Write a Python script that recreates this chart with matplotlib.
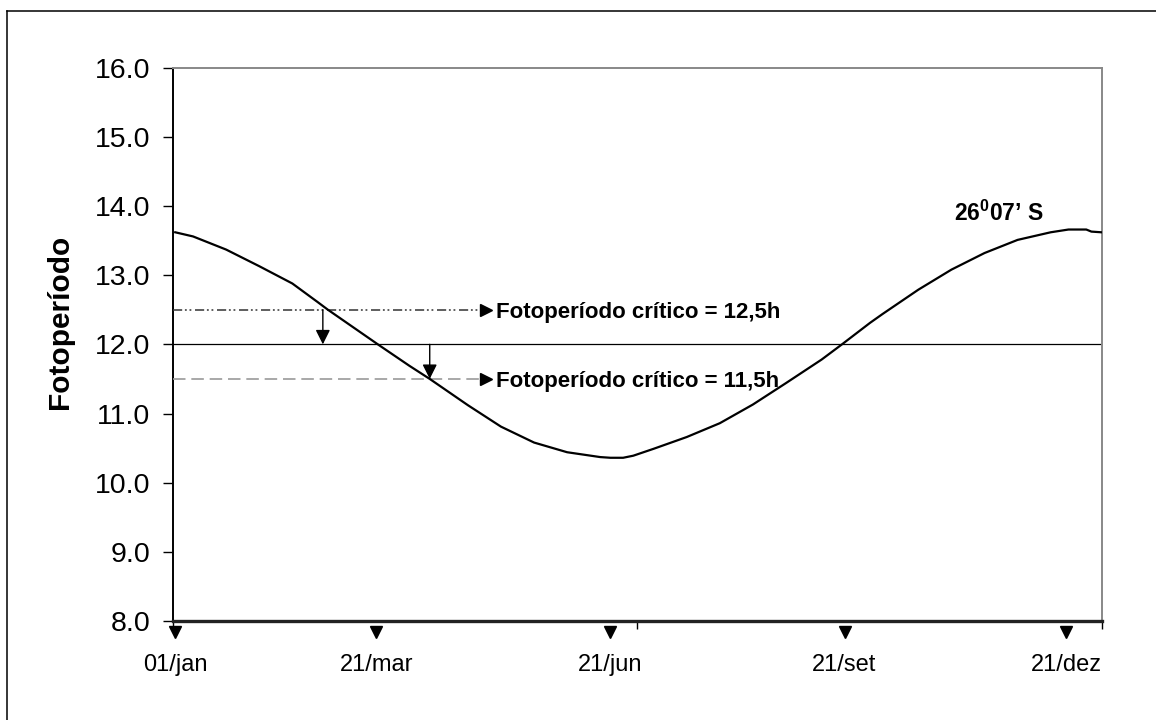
import matplotlib
matplotlib.use("Agg")
import matplotlib.pyplot as plt
from matplotlib.lines import Line2D

plt.rcParams["font.family"] = ["Liberation Sans", "DejaVu Sans"]
plt.rcParams["mathtext.fontset"] = "custom"
plt.rcParams["mathtext.bf"] = "Liberation Sans:bold"
plt.rcParams["mathtext.rm"] = "Liberation Sans"

# fotoperíodo (dia do ano, horas de luz)
days = [1, 8, 21, 34, 47, 57, 61, 81, 93, 101, 116, 129, 142, 155, 168, 172,
        177, 181, 189, 202, 215, 228, 241, 255, 263, 274, 279, 293, 306, 319,
        332, 345, 352, 359, 361, 365]
hours = [13.62, 13.56, 13.37, 13.13, 12.88, 12.61, 12.50, 11.99, 11.69, 11.50,
         11.12, 10.81, 10.58, 10.44, 10.37, 10.36, 10.36, 10.39, 10.49, 10.66,
         10.86, 11.13, 11.44, 11.78, 12.00, 12.31, 12.44, 12.79, 13.08, 13.32,
         13.51, 13.62, 13.66, 13.66, 13.63, 13.62]

date_days = [1, 80, 172, 264, 351]
date_labels = ["01/jan", "21/mar", "21/jun", "21/set", "21/dez"]

critical = [12.5, 11.5]
critical_labels = ["Fotoperíodo crítico = 12,5h", "Fotoperíodo crítico = 11,5h"]
cross_days = [59, 101]   # onde as setas verticais descem
latitude = r"26$^{\mathbf{0}}$07’ S"

fig = plt.figure(figsize=(11.56, 7.2), dpi=100)
ax = fig.add_axes([0.1494, 0.1375, 0.8035, 0.7685])

# moldura externa (só esquerda e topo aparecem)
fig.add_artist(Line2D([0.006, 0.006], [0.0, 0.9847], color="black", lw=1.1))
fig.add_artist(Line2D([0.006, 1.0], [0.9847, 0.9847], color="black", lw=1.1))

ax.plot(days, hours, color="black", lw=1.6, zorder=4)
ax.axhline(12.0, color="black", lw=0.9, zorder=2)

end_day = 121
ax.plot([0, end_day], [critical[0]] * 2, color="#333333", lw=1.1,
        linestyle=(0, (6, 1.8, 1.2, 1.8, 1.2, 2.4)), zorder=3)
ax.plot([0, end_day], [critical[1]] * 2, color="#999999", lw=1.2,
        linestyle=(0, (7.5, 3.5)), zorder=3)
for c, lab in zip(critical, critical_labels):
    ax.plot([123], [c], marker=">", ms=8, color="black", zorder=5)
    ax.text(127, c, lab, fontsize=16, fontweight="bold", ha="left",
            va="center_baseline")

# setas descendo até 12 h e até 11,5 h
ax.annotate("", xy=(cross_days[0], 12.0), xytext=(cross_days[0], 12.5),
            arrowprops=dict(arrowstyle="-|>", color="black", lw=1.0,
                            mutation_scale=22, shrinkA=0, shrinkB=0), zorder=5)
ax.annotate("", xy=(cross_days[1], 11.5), xytext=(cross_days[1], 12.0),
            arrowprops=dict(arrowstyle="-|>", color="black", lw=1.0,
                            mutation_scale=22, shrinkA=0, shrinkB=0), zorder=5)

ax.text(307, 13.9, latitude, fontsize=16.5, fontweight="bold", ha="left",
        va="center")

ax.set_xlim(0, 365)
ax.set_ylim(8, 16)
ax.set_yticks([8, 9, 10, 11, 12, 13, 14, 15, 16])
ax.set_yticklabels([f"{v:.1f}" for v in range(8, 17)])
ax.tick_params(axis="y", direction="out", length=7, width=1.0, pad=9,
               labelsize=20.5)

ax.set_xticks(date_days)
ax.set_xticklabels(date_labels)
ax.set_xticks([0, 182.5, 365], minor=True)
ax.tick_params(axis="x", which="major", length=0, pad=24, labelsize=17)
ax.tick_params(axis="x", which="minor", direction="out", length=6, width=1.0)

ax.plot(date_days, [7.84] * len(date_days), linestyle="none", marker="v",
        ms=9, color="black", clip_on=False, zorder=6)

for side in ["top", "right"]:
    ax.spines[side].set_color("#888888")
    ax.spines[side].set_linewidth(1.4)
ax.spines["left"].set_linewidth(1.4)
ax.spines["bottom"].set_linewidth(2.4)
ax.spines["bottom"].set_color("#222222")

fig.text(0.052, 0.553, "Fotoperíodo", rotation=90, fontsize=21.5,
         fontweight="bold", ha="center", va="center")

fig.savefig("out.png", dpi=100, facecolor="white")
